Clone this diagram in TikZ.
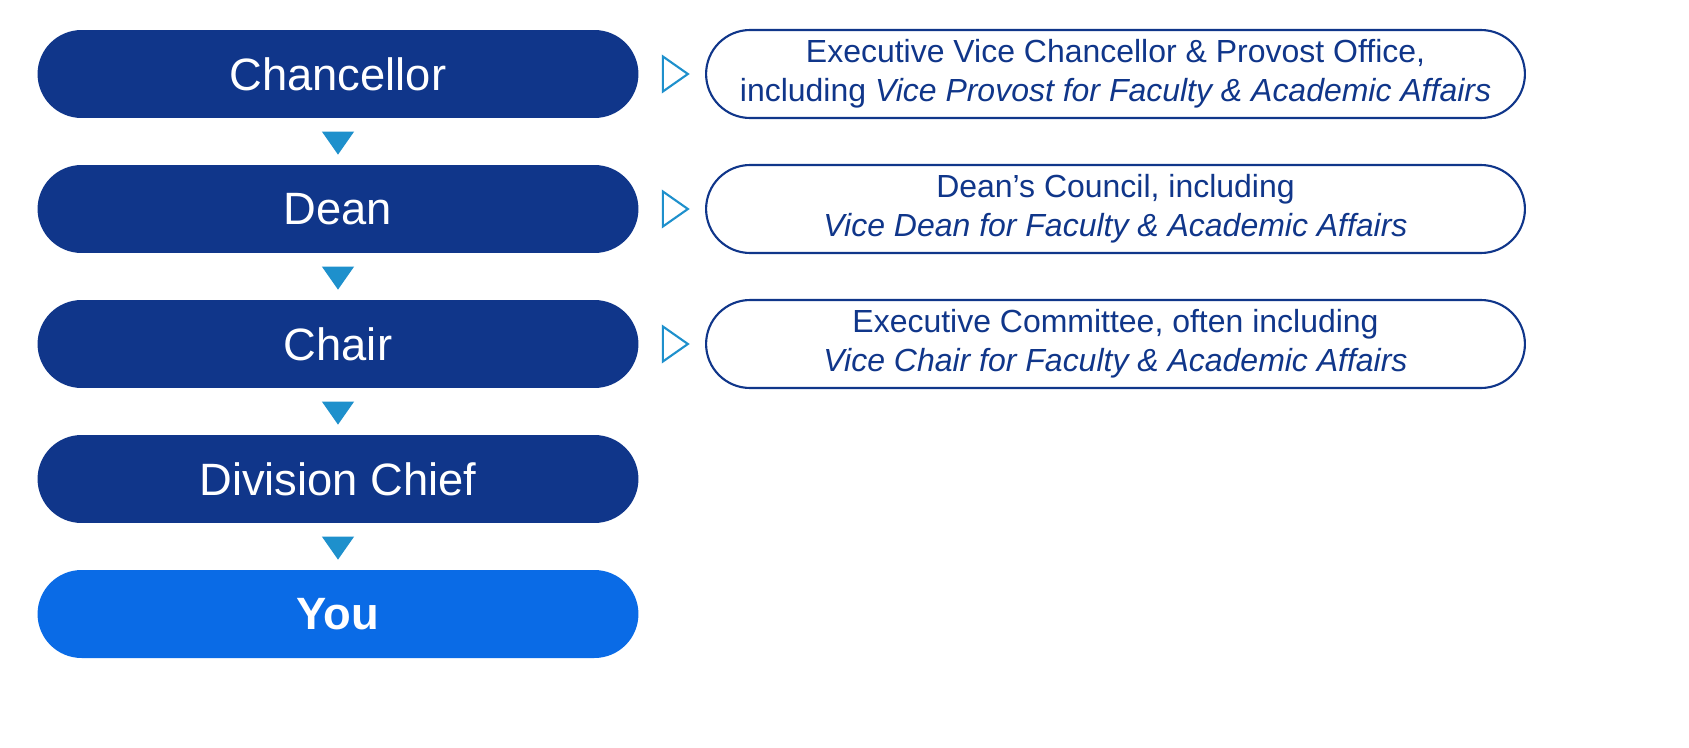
\documentclass[tikz,border=0pt]{standalone}
\usepackage{fontspec}
\setmainfont{Liberation Sans}
\usetikzlibrary{shapes.misc,shapes.geometric,positioning}
\definecolor{navy}{HTML}{10368A}
\definecolor{youblue}{HTML}{0A6BE6}
\definecolor{tri}{HTML}{1E90CC}
\begin{document}
\begin{tikzpicture}[x=0.02cm,y=-0.02cm,
  every node/.style={inner sep=0pt},
  level/.style={rounded rectangle,fill=navy,text=white,minimum width=12.02cm,minimum height=1.76cm,font=\fontsize{25.8}{30}\selectfont},
  body/.style={rounded rectangle,draw=navy,line width=1.2pt,fill=white,text=navy,align=center,minimum width=16.38cm,minimum height=1.76cm,font=\fontsize{18.2}{22}\selectfont},
  down/.style={isosceles triangle,isosceles triangle apex angle=70,fill=tri,shape border rotate=-90,minimum width=0.6cm,minimum height=0.46cm},
  side/.style={isosceles triangle,isosceles triangle apex angle=70,draw=tri,line width=1.2pt,minimum width=0.5cm,minimum height=0.5cm}]
  \useasboundingbox (0,0) rectangle (1689,747);
  % chain of levels
  \node (chancellor) [level] at (338,74) {Chancellor};
  \node (dean) [level] at (338,209) {Dean};
  \node (chair) [level] at (338,344) {Chair};
  \node (chief) [level] at (338,479) {Division Chief};
  \node (you) [level,fill=youblue,font=\fontsize{25.8}{30}\selectfont\bfseries] at (338,614) {You};
  \node (d1) [down] at (338,140) {};
  \node (d2) [down] at (338,275) {};
  \node (d3) [down] at (338,410) {};
  \node (d4) [down] at (338,545) {};
  % advisory bodies
  \node (provost) [body] at (1115.5,74) {Executive Vice Chancellor \& Provost Office,\\including \textit{Vice Provost for Faculty \& Academic Affairs}};
  \node (council) [body] at (1115.5,209) {Dean’s Council, including\\\textit{Vice Dean for Faculty \& Academic Affairs}};
  \node (committee) [body] at (1115.5,344) {Executive Committee, often including\\\textit{Vice Chair for Faculty \& Academic Affairs}};
  \node (s1) [side] at (672,74) {};
  \node (s2) [side] at (672,209) {};
  \node (s3) [side] at (672,344) {};
\end{tikzpicture}
\end{document}
